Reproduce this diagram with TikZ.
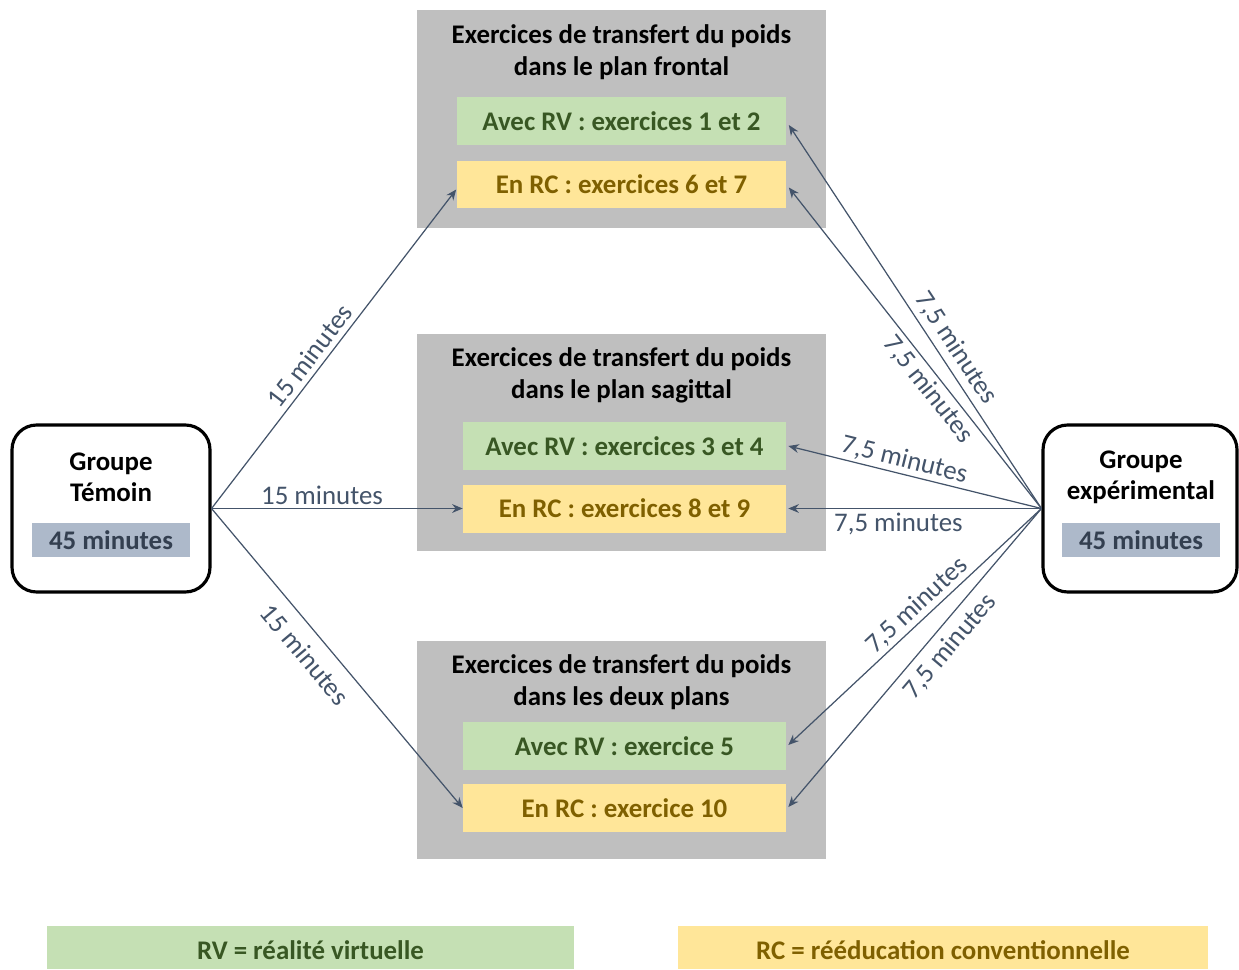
\documentclass[tikz,border=0pt]{standalone}
\usepackage{fontspec}
\setmainfont{Carlito}
\usetikzlibrary{arrows.meta,calc}
\definecolor{panel}{HTML}{BFBFBF}
\definecolor{rvfill}{HTML}{C5E0B4}
\definecolor{rvtext}{HTML}{385723}
\definecolor{rcfill}{HTML}{FFE699}
\definecolor{rctext}{HTML}{7F6000}
\definecolor{durfill}{HTML}{ADB9CA}
\definecolor{durtext}{HTML}{333F50}
\definecolor{arrowc}{HTML}{44546A}
\begin{document}
\begin{tikzpicture}[x=0.02cm,y=-0.02cm,
  panelbox/.style={fill=panel, minimum width=8.18cm, minimum height=4.36cm, inner sep=0pt},
  titletext/.style={font=\bfseries\fontsize{15.3}{18.1}\selectfont, align=center, text=black, inner sep=0pt},
  rvbox/.style={fill=rvfill, text=rvtext, font=\bfseries\fontsize{15.3}{18}\selectfont, minimum height=0.96cm, inner sep=0pt},
  rcbox/.style={fill=rcfill, text=rctext, font=\bfseries\fontsize{15.3}{18}\selectfont, minimum height=0.96cm, inner sep=0pt},
  groupbox/.style={draw=black, line width=1.8pt, rounded corners=14pt, fill=white, minimum height=3.34cm, inner sep=0pt},
  grouptext/.style={font=\bfseries\fontsize{15.3}{17.6}\selectfont, align=center, inner sep=0pt},
  durbox/.style={fill=durfill, text=durtext, font=\bfseries\fontsize{15.3}{18}\selectfont, minimum width=3.16cm, minimum height=0.68cm, inner sep=0pt},
  conn/.style={draw=arrowc, line width=0.7pt, -{Stealth[length=6pt,width=5pt]}},
  lbl/.style={text=arrowc, font=\fontsize{15.3}{18}\selectfont, inner sep=1pt},
  legendtext/.style={font=\bfseries\fontsize{15.3}{18}\selectfont, inner sep=0pt}
]
\useasboundingbox (0,0) rectangle (1239,969);

% gray panels
\node[panelbox] (p1) at (621.5,119) {};
\node[panelbox] (p2) at (621.5,442.5) {};
\node[panelbox] (p3) at (621.5,750) {};
\node[titletext] (t1) at (621.5,52) {Exercices de transfert du poids\\dans le plan frontal};
\node[titletext] (t2) at (621.5,375) {Exercices de transfert du poids\\dans le plan sagittal};
\node[titletext] (t3) at (621.5,682) {Exercices de transfert du poids\\dans les deux plans};

% sub boxes
\node[rvbox, minimum width=6.6cm] (g1) at (621.5,121) {Avec RV : exercices 1 et 2};
\node[rcbox, minimum width=6.6cm] (y1) at (621.5,184.5) {En RC : exercices 6 et 7};
\node[rvbox, minimum width=6.46cm] (g2) at (624.5,446) {Avec RV : exercices 3 et 4};
\node[rcbox, minimum width=6.46cm] (y2) at (624.5,508.5) {En RC : exercices 8 et 9};
\node[rvbox, minimum width=6.46cm] (g3) at (624.5,746) {Avec RV : exercice 5};
\node[rcbox, minimum width=6.46cm] (y3) at (624.5,808) {En RC : exercice 10};

% group boxes
\node[groupbox, minimum width=3.96cm] (gt) at (111,508.5) {};
\node[grouptext] (gtt) at (111,477) {Groupe\\Témoin};
\node[durbox] (gtd) at (111,540) {45 minutes};
\node[groupbox, minimum width=3.88cm] (ge) at (1140,508.5) {};
\node[grouptext] (get) at (1141,477) {Groupe\\expérimental};
\node[durbox] (ged) at (1141,540) {45 minutes};

% legend
\fill[rvfill] (47,926) rectangle (574,969);
\node[legendtext, text=rvtext] (lg) at (310.5,950) {RV = réalité virtuelle};
\fill[rcfill] (678,926) rectangle (1208,969);
\node[legendtext, text=rctext] (lc) at (943,950) {RC = rééducation conventionnelle};

% connectors from Groupe Témoin
\draw[conn] (gt.east) -- node[lbl, sloped, above=2pt, pos=0.45] {15 minutes} ($(y1.west)+(0,5)$);
\draw[conn] (gt.east) -- node[lbl, above=1pt, pos=0.44] {15 minutes} (y2.west);
\draw[conn] (gt.east) -- node[lbl, sloped, below=6pt, pos=0.44] {15 minutes} (y3.west);

% connectors from Groupe expérimental
\draw[conn] (ge.west) -- node[lbl, sloped, above=2pt, pos=0.395] {7,5 minutes} ($(g1.east)+(2,4)$);
\draw[conn] (ge.west) -- node[lbl, sloped, below=1pt, pos=0.40] {7,5 minutes} ($(y1.east)+(2,3)$);
\draw[conn] (ge.west) -- node[lbl, sloped, above=0.5pt, pos=0.555] {7,5 minutes} ($(g2.east)+(2,0)$);
\draw[conn] (ge.west) -- node[lbl, below=1pt, pos=0.565] {7,5 minutes} ($(y2.east)+(2,0)$);
\draw[conn] (ge.west) -- node[lbl, sloped, above=0.5pt, pos=0.454] {7,5 minutes} ($(g3.east)+(2,-1)$);
\draw[conn] (ge.west) -- node[lbl, sloped, below=3.5pt, pos=0.42] {7,5 minutes} ($(y3.east)+(2,-1)$);
\end{tikzpicture}
\end{document}
